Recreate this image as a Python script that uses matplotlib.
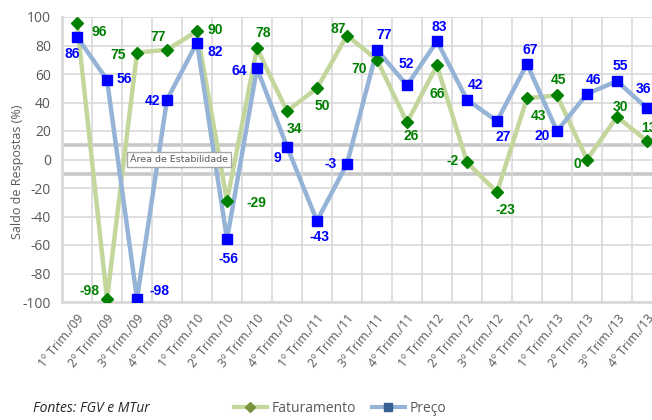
import matplotlib
matplotlib.use("Agg")
import matplotlib.pyplot as plt
from matplotlib.lines import Line2D
import numpy as np

categories = ["1º Trim./09", "2º Trim./09", "3º Trim./09", "4º Trim./09",
              "1º Trim./10", "2º Trim./10", "3º Trim./10", "4º Trim./10",
              "1º Trim./11", "2º Trim./11", "3º Trim./11", "4º Trim./11",
              "1º Trim./12", "2º Trim./12", "3º Trim./12", "4º Trim./12",
              "1º Trim./13", "2º Trim./13", "3º Trim./13", "4º Trim./13"]
faturamento = [96, -98, 75, 77, 90, -29, 78, 34, 50, 87, 70, 26, 66, -2, -23, 43, 45, 0, 30, 13]
preco = [86, 56, -98, 42, 82, -56, 64, 9, -43, -3, 77, 52, 83, 42, 27, 67, 20, 46, 55, 36]

# label offsets in pixels (dx, dy up positive)
fat_off = [(22, -9), (-18, 8), (-19, -2), (-9, 13), (18, 1), (29, -2), (6, 15), (7, -18),
           (5, -18), (-9, 7), (-18, -9), (4, -14), (0, -29), (-14, 1), (8, -18), (11, -18),
           (1, 15), (-10, -4), (3, 10), (2, 13)]
pre_off = [(-5, -17), (17, 1), (22, 8), (-15, -1), (18, -9), (1, -20), (-18, -3), (-10, -11),
           (2, -16), (-16, 0), (7, 15), (-1, 21), (2, 14), (8, 15), (6, -16), (3, 14),
           (-15, -5), (6, 14), (3, 15), (-4, 19)]

fig = plt.figure(figsize=(6.52, 4.20), dpi=100)
ax = fig.add_axes([62/652, 1-302/420, 600/652, 285/420])

x = np.arange(len(categories))
ax.set_xlim(-0.5, len(categories) - 0.5)
ax.set_ylim(-100, 100)

# grid
ax.set_yticks(np.arange(-100, 101, 20))
ax.set_xticks(x)
ax.set_xticks(np.arange(-0.5, len(categories), 1), minor=True)
ax.grid(True, which="major", axis="y", color="#d9d9d9", lw=1.2, zorder=0)
ax.grid(True, which="minor", axis="x", color="#d9d9d9", lw=1.2, zorder=0)
ax.tick_params(axis="both", which="both", length=0)
for s in ["top", "right"]:
    ax.spines[s].set_visible(False)
for s in ["left", "bottom"]:
    ax.spines[s].set_color("#d9d9d9")
    ax.spines[s].set_linewidth(2)

# stability area lines
ax.axhline(10, color="#c8c8c8", lw=2.6, zorder=1)
ax.axhline(-10, color="#c8c8c8", lw=2.6, zorder=1)
ax.text(3.4, 0, "Área de Estabilidade", fontsize=6.8, color="#595959", ha="center", va="center",
        family="DejaVu Sans",
        bbox=dict(boxstyle="square,pad=0.3", fc="white", ec="#a6a6a6", lw=1), zorder=6)

# series
ax.plot(x, faturamento, color="#c3d69b", lw=3.2, zorder=3)
ax.plot(x, faturamento, ls="none", marker="D", ms=6.5, color="#008000", zorder=5)
ax.plot(x, preco, color="#95b3d7", lw=3.2, zorder=3)
ax.plot(x, preco, ls="none", marker="s", ms=7.5, color="#0000ff", zorder=5)

for xi, v, (dx, dy) in zip(x, faturamento, fat_off):
    ax.annotate(str(v), (xi, v), xytext=(dx, dy), textcoords="offset pixels",
                ha="center", va="center", fontsize=10, fontweight="bold",
                color="#008000", family="Liberation Sans", zorder=7)
for xi, v, (dx, dy) in zip(x, preco, pre_off):
    ax.annotate(str(v), (xi, v), xytext=(dx, dy), textcoords="offset pixels",
                ha="center", va="center", fontsize=10, fontweight="bold",
                color="#0000ff", family="Liberation Sans", zorder=7)

ax.set_xticklabels(categories, rotation=51, ha="right", rotation_mode="anchor",
                   fontsize=9, color="#595959", family="Open Sans")
ax.tick_params(axis="x", pad=7)
ax.set_yticklabels([str(v) for v in range(-100, 101, 20)], fontsize=10, color="#595959",
                   family="Open Sans")
ax.tick_params(axis="y", pad=8)

fig.text(18/652, 1-172/420, "Saldo de Respostas (%)", rotation=90, fontsize=9,
         color="#595959", family="Open Sans", ha="center", va="center")

fig.text(33/652, 1-408/420, "Fontes: FGV e MTur", fontsize=10, style="italic",
         color="#262626", family="Open Sans", va="center", ha="left")

handles = [Line2D([0], [0], color="#c3d69b", lw=3, marker="D", ms=5,
                  mfc="#77933c", mec="#77933c"),
           Line2D([0], [0], color="#95b3d7", lw=3, marker="s", ms=6,
                  mfc="#376092", mec="#376092")]
fig.legend(handles, ["Faturamento", "Preço"], loc="center", ncol=2,
           bbox_to_anchor=(340/652, 1-408/420), frameon=False,
           prop={"family": "Open Sans", "size": 10}, labelcolor="#595959",
           handlelength=2.4, handletextpad=0.35, columnspacing=1.1)

fig.savefig("out.png", dpi=100)
